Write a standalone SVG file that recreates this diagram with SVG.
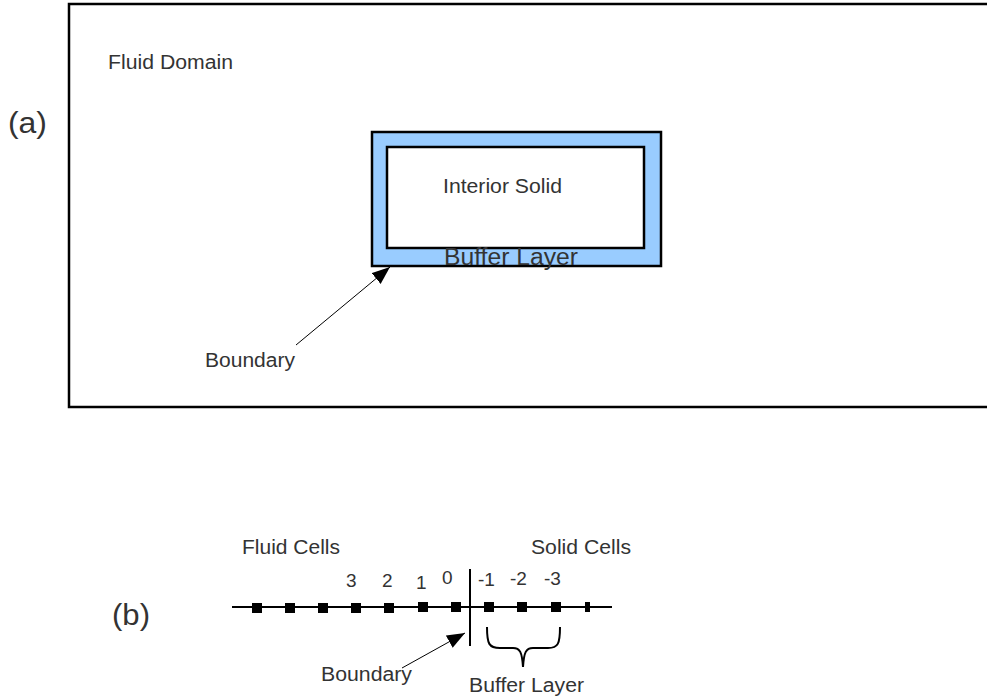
<svg xmlns="http://www.w3.org/2000/svg" width="987" height="700" viewBox="0 0 987 700">
  <style>
    .lbl { font-family: "Liberation Sans", Arial, sans-serif; fill: #333333; }
    .frame { fill: #ffffff; stroke: #000000; stroke-width: 2.5; }
    .buffer { fill: #99ccff; stroke: #000000; stroke-width: 2.5; }
    .solid { fill: #ffffff; stroke: #000000; stroke-width: 2.5; }
    .ptr { stroke: #000000; stroke-width: 1; fill: none; }
    .axis { stroke: #000000; stroke-width: 2; fill: none; }
    .cell { fill: #000000; }
  </style>
  <defs>
    <marker id="tip" markerUnits="userSpaceOnUse" markerWidth="20" markerHeight="16" refX="18" refY="7" orient="auto">
      <path d="M0,0 L18,7 L0,14 z" fill="#000000"/>
    </marker>
  </defs>

  <rect width="987" height="700" fill="#ffffff"/>

  <!-- (a) domain view -->
  <g id="fluid-domain">
    <rect class="frame" x="69" y="4" width="940" height="403"/>
    <text class="lbl" x="108" y="69" font-size="20" textLength="125" lengthAdjust="spacingAndGlyphs">Fluid Domain</text>
  </g>
  <text class="lbl" x="8" y="133" font-size="30" textLength="39" lengthAdjust="spacingAndGlyphs">(a)</text>

  <g id="buffer-layer">
    <rect class="buffer" x="372" y="132" width="289" height="134"/>
  </g>
  <g id="interior-solid">
    <rect class="solid" x="387" y="147" width="257" height="101"/>
    <text class="lbl" x="443" y="193" font-size="20" textLength="119" lengthAdjust="spacingAndGlyphs">Interior Solid</text>
  </g>
  <text class="lbl" x="444" y="265" font-size="23" fill="#444444" textLength="134" lengthAdjust="spacingAndGlyphs">Buffer Layer</text>

  <g id="boundary-a">
    <text class="lbl" x="205" y="367" font-size="19.5" textLength="90" lengthAdjust="spacingAndGlyphs">Boundary</text>
  </g>

  <!-- (b) cell index view -->
  <text class="lbl" x="112" y="625" font-size="30" textLength="38" lengthAdjust="spacingAndGlyphs">(b)</text>
  <text class="lbl" x="242" y="554" font-size="19.5" textLength="98" lengthAdjust="spacingAndGlyphs">Fluid Cells</text>
  <text class="lbl" x="531" y="554" font-size="19.5" textLength="100" lengthAdjust="spacingAndGlyphs">Solid Cells</text>

  <g id="cell-axis">
    <line class="axis" x1="232" y1="607" x2="612" y2="607"/>
    <rect class="cell" x="252" y="603" width="10" height="10"/>
    <rect class="cell" x="285" y="603" width="10" height="10"/>
    <rect class="cell" x="318" y="603" width="10" height="10"/>
    <rect class="cell" x="351" y="603" width="10" height="10"/>
    <rect class="cell" x="384" y="603" width="10" height="10"/>
    <rect class="cell" x="418" y="602" width="10" height="10"/>
    <rect class="cell" x="451" y="602" width="10" height="10"/>
    <rect class="cell" x="484" y="602" width="10" height="10"/>
    <rect class="cell" x="517" y="602" width="10" height="10"/>
    <rect class="cell" x="551" y="602" width="10" height="10"/>
    <rect class="cell" x="585" y="602" width="5" height="10"/>
  </g>

  <g id="cell-indices" class="lbl" font-size="19">
    <text x="346" y="587">3</text>
    <text x="382" y="587">2</text>
    <text x="416" y="589">1</text>
    <text x="442" y="584">0</text>
    <text x="478" y="586">-1</text>
    <text x="510" y="585">-2</text>
    <text x="544" y="585">-3</text>
  </g>

  <g id="boundary-b">
    <line class="axis" x1="470" y1="569" x2="470" y2="646"/>
    <text class="lbl" x="321" y="681" font-size="19.5" textLength="91" lengthAdjust="spacingAndGlyphs">Boundary</text>
  </g>

  <g id="buffer-brace">
    <path class="axis" d="M487,627 C487,644 489,648 500,648 L513,648 C520,648 522,652 523,667 C524,652 526,648 533,648 L548,648 C558,648 560,644 560,627"/>
    <text class="lbl" x="469" y="692" font-size="19.5" textLength="115" lengthAdjust="spacingAndGlyphs">Buffer Layer</text>
  </g>

  <!-- pointer arrows -->
  <g id="connectors">
    <line class="ptr" x1="296" y1="345" x2="390" y2="267" marker-end="url(#tip)"/>
    <line class="ptr" x1="402" y1="668" x2="465" y2="633" marker-end="url(#tip)"/>
  </g>
</svg>
